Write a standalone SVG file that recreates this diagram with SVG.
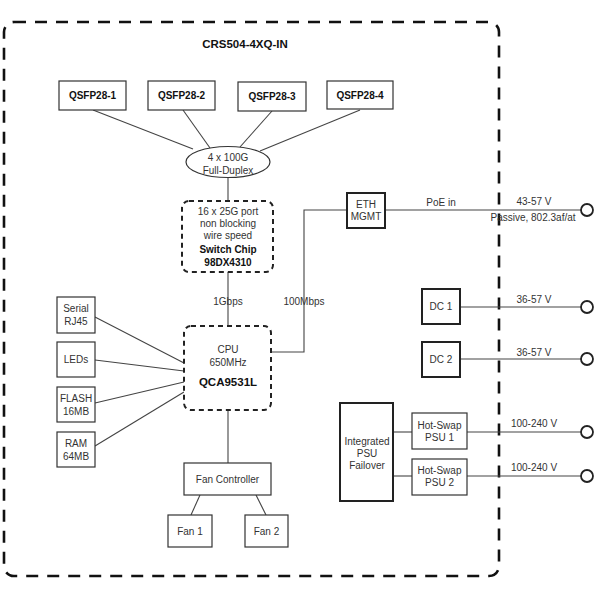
<svg xmlns="http://www.w3.org/2000/svg" width="600" height="600" viewBox="0 0 600 600">
<style>
text{font-family:"Liberation Sans",Arial,sans-serif;font-size:10px;fill:#333;text-anchor:middle}
.b{font-weight:bold;fill:#111}
.t{font-size:11.5px}
.box{fill:#fff;stroke:#333;stroke-width:1.2}
.thick{fill:#fff;stroke:#222;stroke-width:2}
.dash{fill:#fff;stroke:#222;stroke-width:2;stroke-dasharray:5 4}
.ln{fill:none;stroke:#444;stroke-width:1.1}
.port{fill:#fff;stroke:#222;stroke-width:1.8}
</style>
<rect x="0" y="0" width="600" height="600" fill="#fff"/>
<g id="enclosure">
<rect x="4" y="22" width="495" height="554" rx="10" fill="none" stroke="#111" stroke-width="2.6" stroke-dasharray="12 9"/>
<text x="245" y="48" class="b t">CRS504-4XQ-IN</text>
</g>
<g id="connectors">
<line class="ln" x1="93" y1="110" x2="193" y2="149"/>
<line class="ln" x1="183" y1="110" x2="210" y2="148"/>
<line class="ln" x1="272" y1="111" x2="240" y2="147"/>
<line class="ln" x1="360" y1="110" x2="260" y2="151"/>
<line class="ln" x1="228" y1="177" x2="228" y2="201"/>
<line class="ln" x1="228" y1="272" x2="228" y2="326"/>
<polyline class="ln" points="271,352 304,352 304,210 347,210"/>
<line class="ln" x1="385" y1="210" x2="581" y2="210"/>
<line class="ln" x1="460" y1="307" x2="581" y2="307"/>
<line class="ln" x1="460" y1="359" x2="581" y2="359"/>
<line class="ln" x1="393" y1="432" x2="412" y2="432"/>
<line class="ln" x1="393" y1="476" x2="412" y2="476"/>
<line class="ln" x1="467" y1="432" x2="581" y2="432"/>
<line class="ln" x1="467" y1="476" x2="581" y2="476"/>
<line class="ln" x1="95" y1="317" x2="184" y2="363"/>
<line class="ln" x1="95" y1="360" x2="184" y2="371"/>
<line class="ln" x1="95" y1="403" x2="184" y2="382"/>
<line class="ln" x1="95" y1="446" x2="184" y2="392"/>
<line class="ln" x1="228" y1="410" x2="228" y2="463"/>
<line class="ln" x1="200" y1="495" x2="191" y2="515"/>
<line class="ln" x1="256" y1="495" x2="266" y2="515"/>
<text x="228" y="305">1Gbps</text>
<text x="304" y="305">100Mbps</text>
<text x="441" y="206">PoE in</text>
<text x="534" y="205">43-57 V</text>
<text x="533" y="221">Passive, 802.3af/at</text>
<text x="534" y="303">36-57 V</text>
<text x="534" y="356">36-57 V</text>
<text x="534" y="427">100-240 V</text>
<text x="534" y="471">100-240 V</text>
</g>
<g id="qsfp1"><rect class="box" x="59" y="81" width="67" height="29"/><text x="92.5" y="99" class="b">QSFP28-1</text></g>
<g id="qsfp2"><rect class="box" x="148" y="81" width="67" height="29"/><text x="181.5" y="99" class="b">QSFP28-2</text></g>
<g id="qsfp3"><rect class="box" x="238" y="82" width="68" height="29"/><text x="272" y="100" class="b">QSFP28-3</text></g>
<g id="qsfp4"><rect class="box" x="327" y="81" width="66" height="28"/><text x="360" y="99" class="b">QSFP28-4</text></g>
<g id="duplex"><ellipse cx="228" cy="162" rx="42" ry="15.5" fill="#fff" stroke="#333" stroke-width="1.2"/><text x="228" y="161">4 x 100G</text><text x="228" y="174">Full-Duplex</text></g>
<g id="switch"><rect class="dash" x="182" y="201" width="91" height="71" rx="7"/>
<text x="228" y="215">16 x 25G port</text><text x="228" y="227">non blocking</text><text x="228" y="239">wire speed</text>
<text x="228" y="253" class="b">Switch Chip</text><text x="228" y="266" class="b">98DX4310</text></g>
<g id="cpu"><rect class="dash" x="184" y="326" width="87" height="84" rx="7"/>
<text x="228" y="353">CPU</text><text x="228" y="366">650MHz</text><text x="228" y="386" class="b t">QCA9531L</text></g>
<g id="eth"><rect class="thick" x="347" y="193" width="38" height="35"/><text x="366" y="208">ETH</text><text x="366" y="220">MGMT</text></g>
<g id="dc1"><rect class="thick" x="422" y="289" width="38" height="35"/><text x="441" y="310">DC 1</text></g>
<g id="dc2"><rect class="thick" x="422" y="342" width="38" height="35"/><text x="441" y="363">DC 2</text></g>
<g id="failover"><rect class="thick" x="340" y="403" width="53" height="98"/><text x="367" y="445">Integrated</text><text x="367" y="457">PSU</text><text x="367" y="469">Failover</text></g>
<g id="psu1"><rect class="box" x="412" y="413" width="55" height="36"/><text x="439.5" y="429">Hot-Swap</text><text x="439.5" y="441">PSU 1</text></g>
<g id="psu2"><rect class="box" x="412" y="459" width="55" height="36"/><text x="439.5" y="474">Hot-Swap</text><text x="439.5" y="486">PSU 2</text></g>
<g id="port-poe"><circle class="port" cx="587" cy="210" r="6"/></g>
<g id="port-dc1"><circle class="port" cx="587" cy="307" r="6"/></g>
<g id="port-dc2"><circle class="port" cx="587" cy="359" r="6"/></g>
<g id="port-ac1"><circle class="port" cx="587" cy="432" r="6"/></g>
<g id="port-ac2"><circle class="port" cx="587" cy="476" r="6"/></g>
<g id="serial"><rect class="box" x="57" y="297" width="38" height="36"/><text x="76" y="312">Serial</text><text x="76" y="325">RJ45</text></g>
<g id="leds"><rect class="box" x="57" y="342" width="38" height="35"/><text x="76" y="363">LEDs</text></g>
<g id="flash"><rect class="box" x="57" y="387" width="38" height="35"/><text x="76" y="402">FLASH</text><text x="76" y="415">16MB</text></g>
<g id="ram"><rect class="box" x="57" y="432" width="38" height="35"/><text x="76" y="447">RAM</text><text x="76" y="460">64MB</text></g>
<g id="fanctl"><rect class="box" x="184" y="463" width="87" height="32"/><text x="227.5" y="483">Fan Controller</text></g>
<g id="fan1"><rect class="box" x="168" y="515" width="44" height="32"/><text x="190" y="535">Fan 1</text></g>
<g id="fan2"><rect class="box" x="245" y="515" width="43" height="32"/><text x="266.5" y="535">Fan 2</text></g>
</svg>
